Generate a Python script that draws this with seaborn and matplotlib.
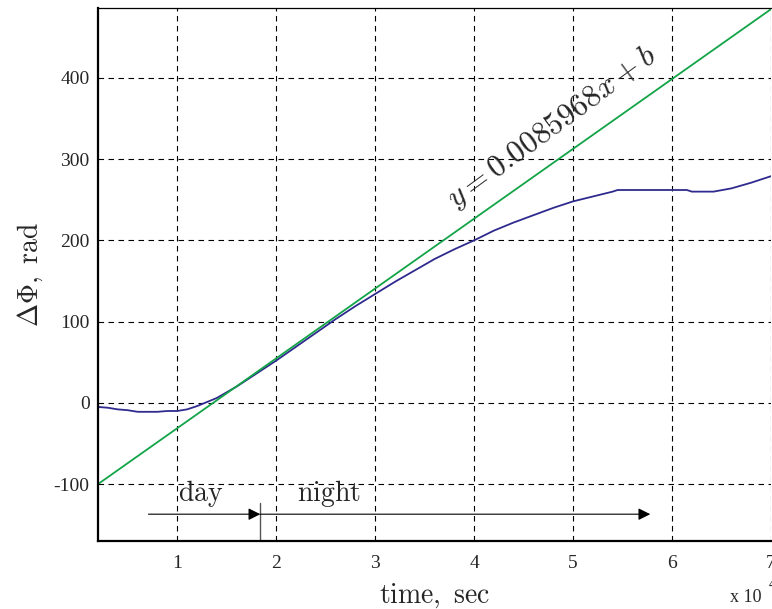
import numpy as np
import pandas as pd
import matplotlib
matplotlib.use("Agg")
import matplotlib.pyplot as plt
import seaborn as sns

# Measured phase difference (time in units of 1e4 s)
time_x = [0.2, 0.3, 0.4, 0.5, 0.6, 0.7, 0.8, 0.9, 1.0, 1.1, 1.2, 1.3, 1.4,
          1.5, 1.6, 1.7, 1.8, 1.9, 2.0, 2.2, 2.4, 2.6, 2.8, 3.0, 3.2, 3.4,
          3.6, 3.8, 4.0, 4.2, 4.4, 4.6, 4.8, 5.0, 5.2, 5.4, 5.45, 6.15,
          6.2, 6.42, 6.6, 6.8, 7.0]
phase_y = [-5, -6, -8, -9, -11, -11, -11, -10, -10, -8, -4, 1, 6,
           13, 20, 28, 36, 44, 52, 69, 86, 103, 119, 134, 149, 163,
           177, 189, 200, 212, 222, 231, 240, 248, 254, 260, 262, 262,
           260, 260, 264, 271, 279]

# Linear fit y = a*t + b (a in rad/s, t in s)
fit_slope = 0.0085968
fit_intercept = -117.19
fit_x = [0.2, 7.0]
fit_y = [fit_slope * t * 1e4 + fit_intercept for t in fit_x]

x_ticks = [1, 2, 3, 4, 5, 6, 7]
y_ticks = [-100, 0, 100, 200, 300, 400]

sns.set_style("white")
plt.rcParams["mathtext.fontset"] = "cm"
plt.rcParams["font.family"] = ["Liberation Serif", "DejaVu Serif"]

fig = plt.figure(figsize=(7.72, 6.09), dpi=100)
ax = fig.add_axes([98 / 772, 1 - 541 / 609, 673 / 772, 533 / 609])

meas = pd.DataFrame({"t": time_x, "phi": phase_y})
fit = pd.DataFrame({"t": fit_x, "phi": fit_y})
sns.lineplot(data=meas, x="t", y="phi", ax=ax, color="#2f2a8e", lw=1.3)
sns.lineplot(data=fit, x="t", y="phi", ax=ax, color="#12a447", lw=1.3)

ax.set_xlim(0.2, 7.0)
ax.set_ylim(-170, 486)
ax.set_xticks(x_ticks)
ax.set_yticks(y_ticks)
ax.set_xticklabels([str(v) for v in x_ticks])
ax.set_yticklabels([str(v) for v in y_ticks])
ax.tick_params(axis="both", length=0, labelsize=14)
ax.tick_params(axis="x", pad=10)
ax.tick_params(axis="y", pad=6)

ax.grid(True, color="black", linestyle=(0, (5, 4)), linewidth=0.8)
for side in ["left", "bottom"]:
    ax.spines[side].set_linewidth(1.6)
    ax.spines[side].set_color("black")
ax.spines["top"].set_linewidth(0.9)
ax.spines["top"].set_color("black")
ax.spines["right"].set_visible(False)

ax.set_xlabel(r"$\mathrm{time,\ sec}$", fontsize=20, labelpad=7)
ax.set_ylabel(r"$\Delta\Phi,\ \mathrm{rad}$", fontsize=20, labelpad=6)

# Fit equation along the line
ax.text(4.84, 331, r"$y = 0.0085968x + b$", fontsize=22.5, rotation=36.3,
        ha="center", va="baseline", rotation_mode="anchor")

# Day / night markers
ax.annotate("", xy=(1.84, -137), xytext=(0.71, -137),
            arrowprops=dict(arrowstyle="-|>", color="black", lw=0.8,
                            mutation_scale=18, shrinkA=0, shrinkB=0))
ax.annotate("", xy=(5.78, -137), xytext=(1.84, -137),
            arrowprops=dict(arrowstyle="-|>", color="black", lw=0.8,
                            mutation_scale=18, shrinkA=0, shrinkB=0))
ax.plot([1.84, 1.84], [-123, -170], color="#555555", lw=1.0, clip_on=False)
ax.text(1.24, -112, r"$\mathrm{day}$", fontsize=20, ha="center", va="center")
ax.text(2.53, -112, r"$\mathrm{night}$", fontsize=20, ha="center", va="center")

# Axis multiplier
fig.text(0.945, 0.005, "x 10", fontsize=13, ha="left", va="bottom")
fig.text(0.996, 0.03, "4", fontsize=10, ha="left", va="bottom")

fig.savefig("out.png", dpi=100)
